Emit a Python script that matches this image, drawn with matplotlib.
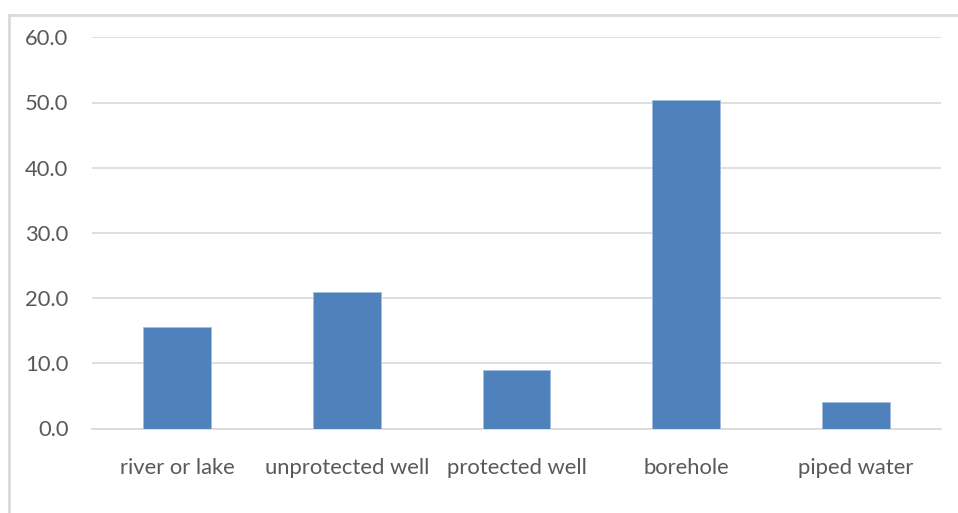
import matplotlib
matplotlib.use("Agg")
import matplotlib.pyplot as plt
from matplotlib.lines import Line2D
from matplotlib.ticker import FuncFormatter, MultipleLocator

categories = ["river or lake", "unprotected well", "protected well", "borehole", "piped water"]
values = [15.5, 21.0, 8.9, 50.4, 4.1]

W, H = 958, 513
fig = plt.figure(figsize=(W / 100, H / 100), dpi=100)
plt.rcParams["font.family"] = ["Lato", "DejaVu Sans"]

ax = fig.add_axes([92 / W, 1 - 428.5 / H, (941 - 92) / W, (428.5 - 37.3) / H])

grid_color = "#d9d9d9"
text_color = "#595959"

x = range(len(categories))
ax.bar(x, values, width=0.4, color="#4f81bd", edgecolor="#a3bddf", linewidth=0.6, zorder=3)

ax.set_xlim(-0.5, len(categories) - 0.5)
ax.set_ylim(0, 60)
ax.yaxis.set_major_locator(MultipleLocator(10))
ax.yaxis.set_major_formatter(FuncFormatter(lambda v, p: f"{v:.1f}"))
ax.grid(axis="y", color=grid_color, linewidth=1.2, zorder=0)
ax.set_axisbelow(True)

for s in ["top", "right", "left"]:
    ax.spines[s].set_visible(False)
ax.spines["bottom"].set_color(grid_color)
ax.spines["bottom"].set_linewidth(1.2)

ax.set_xticks(list(x))
ax.set_xticklabels(categories)
ax.tick_params(axis="both", length=0, labelsize=15.8, labelcolor=text_color)
ax.tick_params(axis="y", pad=17)
ax.tick_params(axis="x", pad=21)

# chart area frame (top and left edges)
fig.add_artist(Line2D([9 / W, 1.0], [1 - 15 / H, 1 - 15 / H], transform=fig.transFigure,
                      color=grid_color, linewidth=2))
fig.add_artist(Line2D([9 / W, 9 / W], [1 - 15 / H, 0.0], transform=fig.transFigure,
                      color=grid_color, linewidth=2))

fig.savefig("out.png", dpi=100)
